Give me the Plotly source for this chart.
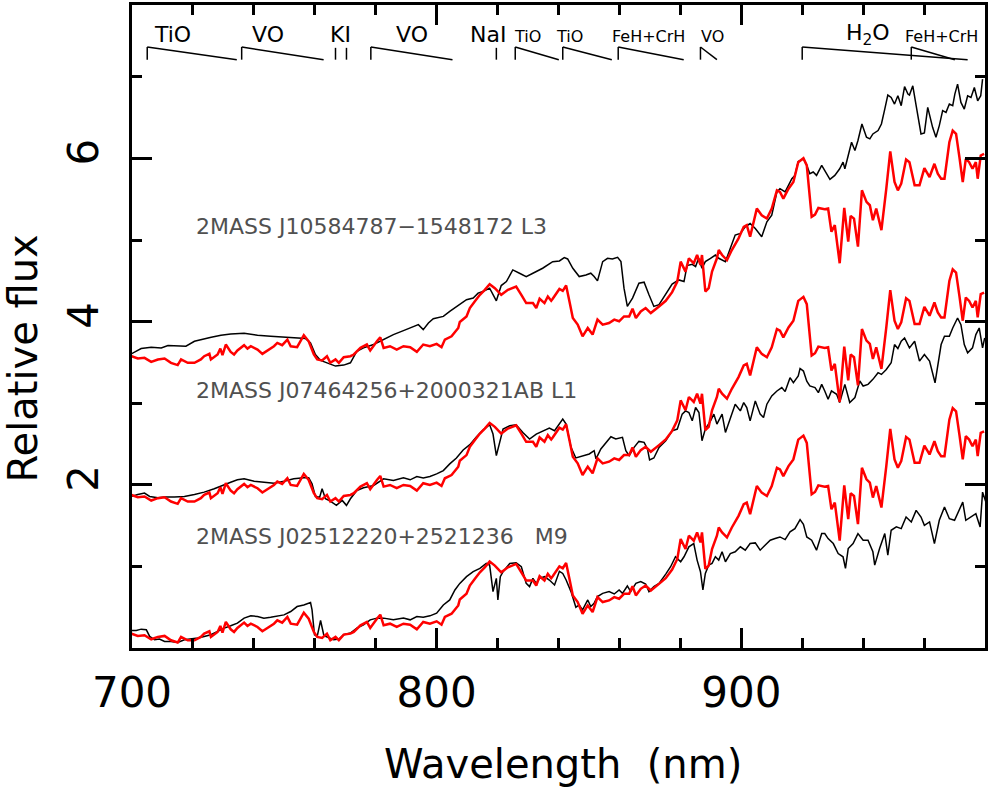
import plotly.graph_objects as go

# ---------------- data ----------------
# Red comparison template (top copy); drawn three times with vertical offsets
template_pairs = [
    (699.8, 3.576), (701.9, 3.548), (704.1, 3.556), (706.3, 3.507), (708.5, 3.536), (710.7, 3.548),
    (712.8, 3.495), (715.0, 3.467), (716.1, 3.536), (718.3, 3.495), (720.5, 3.495), (722.6, 3.536),
    (723.7, 3.576), (725.4, 3.605), (725.9, 3.536), (728.1, 3.597), (729.0, 3.670), (729.7, 3.589),
    (730.8, 3.719), (732.4, 3.629), (733.5, 3.597), (734.6, 3.646), (736.8, 3.711), (737.9, 3.670),
    (739.0, 3.698), (741.2, 3.658), (742.8, 3.605), (744.4, 3.646), (746.6, 3.698), (747.7, 3.739),
    (749.3, 3.711), (751.0, 3.780), (752.1, 3.698), (754.2, 3.686), (756.4, 3.833), (758.0, 3.759),
    (759.7, 3.597), (760.8, 3.536), (762.4, 3.524), (764.0, 3.576), (765.1, 3.495), (766.8, 3.536),
    (767.9, 3.495), (769.5, 3.564), (771.7, 3.576), (772.8, 3.597), (775.0, 3.678), (777.1, 3.719),
    (778.2, 3.646), (780.4, 3.759), (781.5, 3.808), (782.6, 3.678), (784.7, 3.698), (786.9, 3.658),
    (789.1, 3.698), (791.3, 3.686), (793.5, 3.629), (795.6, 3.719), (797.8, 3.698), (800.0, 3.727),
    (801.6, 3.686), (802.7, 3.780), (804.9, 3.820), (807.1, 3.922), (807.6, 3.995), (809.8, 4.064),
    (810.9, 4.166), (812.5, 4.247), (814.2, 4.328), (815.8, 4.389), (817.4, 4.459), (819.1, 4.410),
    (821.2, 4.328), (823.4, 4.389), (826.1, 4.430), (827.8, 4.328), (829.4, 4.227), (831.6, 4.227),
    (832.7, 4.166), (833.8, 4.280), (835.4, 4.227), (836.5, 4.308), (837.6, 4.255), (838.1, 4.280),
    (840.3, 4.400), (841.4, 4.377), (842.5, 4.442), (843.6, 4.247), (844.7, 4.044), (846.3, 3.963),
    (847.9, 3.820), (849.6, 3.922), (851.2, 3.841), (852.8, 4.024), (854.5, 3.963), (856.6, 3.983),
    (858.3, 4.024), (859.9, 4.004), (861.5, 4.064), (863.2, 4.064), (864.3, 4.158), (865.4, 4.044),
    (867.0, 4.125), (868.6, 4.166), (870.3, 4.105), (873.0, 4.186), (875.2, 4.255), (877.3, 4.361),
    (879.0, 4.491), (880.1, 4.735), (881.7, 4.613), (882.8, 4.776), (884.4, 4.715), (885.5, 4.816),
    (886.6, 4.694), (887.1, 4.816), (888.2, 4.369), (889.3, 4.410), (890.4, 4.613), (892.0, 4.776),
    (892.6, 4.877), (893.7, 4.816), (895.3, 4.755), (896.9, 4.877), (899.1, 5.020), (900.8, 5.162),
    (901.8, 5.182), (902.9, 5.040), (905.1, 5.385), (906.7, 5.304), (908.4, 5.263), (910.0, 5.385),
    (911.7, 5.609), (912.7, 5.589), (913.8, 5.507), (915.5, 5.629), (917.1, 5.711), (918.7, 5.954),
    (920.4, 6.003), (921.5, 5.914), (923.1, 5.284), (924.2, 5.312), (925.3, 5.393), (927.4, 5.377),
    (928.5, 5.385), (929.6, 5.101), (930.7, 5.182), (932.3, 4.715), (933.8, 5.393), (935.1, 4.979),
    (935.9, 5.296), (937.0, 5.263), (938.3, 4.918), (939.6, 5.609), (941.1, 5.467), (942.2, 5.426),
    (943.2, 5.243), (944.3, 5.385), (946.0, 5.121), (947.6, 5.629), (948.9, 6.085), (950.3, 5.711),
    (951.4, 5.609), (952.5, 5.690), (954.1, 5.987), (955.2, 5.954), (956.9, 5.670), (958.5, 5.670),
    (960.1, 5.881), (961.8, 5.772), (963.4, 5.934), (964.5, 5.812), (965.6, 5.751), (966.7, 5.751),
    (968.3, 6.198), (969.4, 6.341), (970.5, 6.300), (971.6, 6.015), (972.7, 5.711), (973.7, 5.995),
    (974.8, 5.954), (975.9, 5.873), (977.0, 5.954), (977.6, 5.751), (978.6, 6.036), (979.7, 6.056),
]
template_offsets = [0.0, -1.70, -3.40]

# Observed spectra (black)
l3_pairs = [
    (699.8, 3.605), (703.0, 3.670), (706.3, 3.686), (709.6, 3.678), (711.8, 3.707), (715.0, 3.698),
    (717.7, 3.698), (720.5, 3.759), (722.6, 3.780), (726.0, 3.808), (729.2, 3.833), (732.4, 3.849),
    (736.8, 3.857), (741.2, 3.833), (745.5, 3.820), (749.9, 3.808), (754.2, 3.792), (757.0, 3.792),
    (758.6, 3.739), (760.2, 3.597), (761.9, 3.524), (764.0, 3.495), (766.8, 3.455), (769.5, 3.467),
    (771.7, 3.495), (773.8, 3.637), (776.0, 3.678), (779.3, 3.719), (782.6, 3.780), (785.8, 3.841),
    (789.1, 3.890), (792.4, 3.942), (794.0, 3.963), (795.6, 3.902), (797.3, 3.983), (798.9, 4.036),
    (802.2, 4.064), (804.3, 4.125), (807.6, 4.207), (809.8, 4.268), (812.0, 4.288), (813.6, 4.349),
    (815.2, 4.369), (817.4, 4.410), (819.6, 4.255), (821.2, 4.442), (822.9, 4.491), (825.0, 4.633),
    (827.2, 4.593), (829.4, 4.552), (831.6, 4.593), (834.8, 4.654), (838.1, 4.735), (840.3, 4.743),
    (841.9, 4.784), (843.0, 4.768), (844.7, 4.654), (846.8, 4.552), (849.0, 4.572), (850.6, 4.593),
    (851.7, 4.552), (852.8, 4.499), (854.5, 4.735), (856.1, 4.776), (857.7, 4.768), (859.4, 4.788),
    (860.5, 4.735), (861.5, 4.410), (862.6, 4.186), (864.3, 4.288), (866.4, 4.471), (868.1, 4.483),
    (869.7, 4.328), (871.3, 4.186), (873.0, 4.207), (875.2, 4.328), (877.3, 4.459), (879.5, 4.511),
    (881.2, 4.491), (882.2, 4.686), (883.9, 4.702), (885.0, 4.674), (886.0, 4.776), (887.1, 4.654),
    (888.2, 4.735), (889.9, 4.776), (891.5, 4.816), (892.6, 4.776), (894.8, 4.735), (896.4, 4.898),
    (898.0, 5.060), (899.7, 5.081), (901.3, 5.162), (902.9, 5.202), (904.6, 5.141), (906.7, 5.040),
    (908.4, 5.223), (910.0, 5.304), (911.7, 5.589), (912.7, 5.629), (914.4, 5.589), (916.6, 5.751),
    (917.6, 5.792), (918.7, 5.963), (920.4, 5.995), (921.5, 5.914), (922.5, 5.812), (923.6, 5.833),
    (924.7, 5.792), (926.4, 5.914), (927.4, 5.853), (929.1, 5.743), (930.7, 5.792), (932.3, 5.873),
    (933.4, 5.954), (934.0, 5.873), (935.1, 6.036), (936.2, 6.198), (937.3, 6.097), (938.3, 6.219),
    (939.6, 6.422), (941.1, 6.259), (942.2, 6.239), (943.2, 6.300), (944.9, 6.341), (946.0, 6.422),
    (947.1, 6.605), (948.1, 6.776), (949.2, 6.747), (950.3, 6.666), (951.4, 6.768), (952.5, 6.646),
    (953.6, 6.881), (954.7, 6.788), (955.2, 6.776), (956.3, 6.889), (957.4, 6.646), (959.0, 6.300),
    (960.1, 6.312), (961.2, 6.625), (962.8, 6.381), (963.9, 6.259), (965.0, 6.402), (966.1, 6.585),
    (967.2, 6.564), (968.3, 6.666), (969.4, 6.646), (970.1, 6.788), (971.0, 6.910), (972.1, 6.686),
    (973.2, 6.605), (974.3, 6.768), (975.4, 6.747), (976.5, 6.869), (977.6, 6.706), (978.6, 6.768),
    (979.2, 6.971),
]

l1_pairs = [
    (699.8, 1.857), (701.9, 1.882), (704.1, 1.898), (705.8, 1.857), (708.5, 1.841), (710.7, 1.849),
    (713.9, 1.849), (717.2, 1.857), (720.5, 1.882), (723.7, 1.910), (727.0, 1.951), (730.3, 2.004),
    (732.4, 2.032), (734.6, 2.061), (736.8, 2.073), (740.1, 2.044), (743.3, 2.032), (746.6, 2.020),
    (749.9, 2.044), (753.1, 2.073), (756.4, 2.085), (758.0, 2.085), (759.1, 2.012), (760.2, 1.857),
    (761.6, 1.849), (762.4, 1.951), (763.5, 1.829), (765.1, 1.800), (767.1, 1.748), (769.0, 1.809),
    (770.4, 1.748), (771.7, 1.829), (773.8, 1.931), (776.0, 1.963), (779.3, 1.992), (782.6, 2.073),
    (785.8, 2.053), (789.1, 2.085), (791.3, 2.061), (793.5, 2.101), (795.6, 2.085), (797.8, 2.101),
    (800.0, 2.134), (802.2, 2.174), (804.3, 2.256), (806.5, 2.329), (808.7, 2.427), (810.9, 2.492),
    (813.1, 2.589), (815.2, 2.670), (817.4, 2.736), (818.5, 2.622), (819.6, 2.357), (820.7, 2.540),
    (821.8, 2.683), (824.0, 2.723), (826.1, 2.736), (828.3, 2.642), (830.5, 2.561), (832.7, 2.622),
    (834.8, 2.662), (837.0, 2.695), (838.7, 2.662), (840.3, 2.750), (841.4, 2.805), (842.5, 2.744),
    (844.1, 2.459), (845.7, 2.329), (847.9, 2.357), (850.1, 2.378), (851.7, 2.418), (852.3, 2.317),
    (853.9, 2.439), (855.6, 2.520), (857.2, 2.589), (858.8, 2.561), (861.0, 2.581), (862.1, 2.418),
    (863.2, 2.357), (864.8, 2.459), (866.4, 2.532), (868.1, 2.520), (869.2, 2.439), (869.9, 2.305),
    (871.3, 2.329), (873.0, 2.459), (875.2, 2.540), (877.3, 2.662), (879.0, 2.683), (880.6, 2.866),
    (881.7, 2.906), (882.8, 2.886), (883.9, 2.784), (885.0, 2.947), (886.1, 2.886), (887.1, 2.540),
    (888.2, 2.683), (889.9, 2.784), (891.0, 2.866), (892.0, 2.744), (893.7, 2.866), (894.8, 2.642),
    (896.4, 2.825), (898.0, 2.988), (899.7, 2.906), (900.8, 3.008), (901.8, 2.947), (902.9, 2.784),
    (904.6, 3.028), (906.2, 2.866), (907.3, 2.825), (908.4, 2.988), (910.0, 3.089), (911.7, 3.150),
    (913.3, 3.191), (914.4, 3.142), (916.0, 3.313), (917.1, 3.252), (918.7, 3.333), (919.3, 3.426),
    (920.4, 3.394), (921.5, 3.270), (922.5, 3.211), (924.2, 3.191), (925.3, 3.130), (926.4, 3.231),
    (927.4, 3.150), (928.5, 3.049), (929.6, 3.150), (931.3, 3.109), (932.3, 3.008), (934.0, 3.231),
    (935.6, 3.008), (937.3, 3.069), (938.9, 3.272), (940.0, 3.211), (941.6, 3.231), (943.2, 3.292),
    (944.9, 3.374), (946.0, 3.353), (947.6, 3.414), (949.2, 3.495), (950.3, 3.719), (951.4, 3.670),
    (952.5, 3.759), (953.6, 3.800), (955.2, 3.678), (956.9, 3.759), (958.5, 3.516), (960.1, 3.597),
    (961.8, 3.516), (963.6, 3.250), (965.6, 3.719), (966.7, 3.821), (968.3, 3.821), (969.4, 3.922),
    (971.0, 4.044), (972.1, 3.963), (973.2, 3.719), (974.3, 3.617), (975.9, 3.678), (977.0, 3.841),
    (978.1, 3.922), (979.2, 3.678), (979.9, 3.800),
]

m9_pairs = [
    (699.8, 0.215), (701.4, 0.215), (703.0, 0.231), (704.7, 0.223), (705.8, 0.142), (707.4, 0.101),
    (709.0, 0.109), (710.7, 0.081), (712.8, 0.081), (715.0, 0.069), (717.2, 0.101), (719.4, 0.109),
    (721.6, 0.122), (723.7, 0.142), (725.9, 0.162), (728.1, 0.203), (730.3, 0.244), (732.4, 0.272),
    (734.6, 0.305), (736.8, 0.366), (739.0, 0.394), (741.2, 0.386), (743.3, 0.366), (745.5, 0.378),
    (747.7, 0.394), (749.9, 0.406), (752.1, 0.447), (754.2, 0.508), (756.4, 0.528), (758.0, 0.549),
    (758.6, 0.557), (759.1, 0.467), (759.9, 0.162), (760.8, 0.142), (761.9, 0.337), (763.0, 0.150),
    (764.6, 0.122), (766.2, 0.101), (767.9, 0.109), (769.5, 0.162), (771.7, 0.183), (773.8, 0.244),
    (776.0, 0.284), (778.2, 0.345), (780.4, 0.366), (782.6, 0.366), (785.8, 0.345), (789.1, 0.366),
    (791.3, 0.345), (793.5, 0.386), (795.6, 0.378), (797.8, 0.394), (800.0, 0.427), (802.2, 0.528),
    (804.3, 0.589), (806.0, 0.711), (807.6, 0.792), (809.8, 0.874), (812.0, 0.935), (814.2, 0.975),
    (816.3, 1.036), (817.4, 1.016), (818.5, 0.691), (819.6, 0.853), (820.1, 0.589), (820.9, 0.874),
    (821.8, 0.935), (824.0, 1.036), (826.1, 1.044), (827.8, 0.996), (829.4, 0.792), (830.5, 0.752),
    (831.6, 0.853), (832.7, 0.792), (833.8, 0.853), (835.4, 0.874), (837.0, 0.833), (838.7, 0.772),
    (840.3, 0.940), (841.4, 0.914), (842.5, 0.833), (844.1, 0.691), (845.7, 0.500), (846.8, 0.528),
    (847.9, 0.467), (849.6, 0.589), (850.6, 0.508), (851.7, 0.549), (852.8, 0.630), (854.5, 0.670),
    (856.6, 0.691), (858.3, 0.662), (859.9, 0.711), (861.0, 0.670), (862.6, 0.760), (863.7, 0.691),
    (865.4, 0.792), (867.0, 0.813), (868.6, 0.784), (869.7, 0.691), (871.3, 0.752), (873.0, 0.792),
    (875.2, 0.906), (876.8, 0.996), (878.4, 1.118), (880.1, 1.057), (881.2, 1.118), (882.8, 1.240),
    (884.4, 1.280), (885.5, 1.077), (886.6, 0.935), (887.4, 0.711), (888.2, 0.914), (889.3, 1.016),
    (890.4, 1.036), (891.5, 1.118), (892.6, 1.077), (893.7, 1.179), (894.8, 1.057), (896.4, 1.158),
    (898.0, 1.179), (899.7, 1.240), (901.3, 1.199), (902.9, 1.280), (904.6, 1.288), (906.2, 1.199),
    (907.8, 1.260), (909.5, 1.321), (911.1, 1.341), (912.7, 1.361), (914.4, 1.329), (916.0, 1.423),
    (917.6, 1.463), (919.3, 1.573), (920.4, 1.516), (921.5, 1.361), (923.1, 1.321), (924.7, 1.199),
    (926.4, 1.402), (927.4, 1.402), (928.5, 1.341), (930.2, 1.280), (931.8, 1.158), (933.4, 1.118),
    (934.2, 0.976), (935.1, 1.219), (936.7, 1.280), (938.3, 1.402), (940.0, 1.321), (941.6, 1.321),
    (943.2, 1.179), (943.8, 1.016), (945.4, 1.219), (947.1, 1.402), (948.1, 1.138), (949.2, 1.443),
    (950.9, 1.484), (952.5, 1.463), (954.1, 1.605), (955.8, 1.545), (957.4, 1.687), (959.0, 1.605),
    (960.1, 1.504), (961.8, 1.545), (963.4, 1.280), (965.0, 1.565), (966.7, 1.728), (968.3, 1.585),
    (970.0, 1.565), (971.6, 1.687), (972.7, 1.788), (973.7, 1.565), (975.4, 1.605), (977.0, 1.646),
    (978.4, 1.484), (979.2, 1.910), (980.3, 1.788),
]

star_spectra = [l3_pairs, l1_pairs, m9_pairs]
star_labels = ["2MASS J10584787\u22121548172 L3",
               "2MASS J07464256+2000321AB L1",
               "2MASS J02512220+2521236\u00a0\u00a0\u00a0M9"]
label_x = [720.4, 720.4, 720.4]
label_y = [5.17, 3.16, 1.37]

# Molecular / atomic band markers
band_names = ["TiO", "VO", "KI", "VO", "NaI", "TiO", "TiO", "FeH+CrH", "VO", "H<sub>2</sub>O", "FeH+CrH"]
band_label_x = [713.4, 744.6, 768.4, 791.8, 816.9, 829.9, 843.6, 869.7, 890.4, 941.6, 965.6]
band_big = [True, True, True, True, True, False, False, False, False, True, False]
band_start = [705.0, 736.0, None, 778.4, None, 825.8, 841.4, 859.6, 886.6, 920.0, 955.8]
band_end = [734.4, 762.9, None, 805.2, None, 840.1, 857.5, 881.1, 892.0, 974.3, 970.1]
line_markers = [766.8, 770.4, 819.6]   # single atomic lines (KI doublet, NaI)

x_range = [700, 980]
y_range = [0, 7.88]
x_ticks = [700, 800, 900]
x_minor = [720, 740, 760, 780, 820, 840, 860, 880, 920, 940, 960, 980]
y_ticks = [2, 4, 6]
y_minor = [1, 3, 5, 7]

FONT = "DejaVu Sans"

fig = go.Figure()
for i, pairs in enumerate(star_spectra):
    wl, fl = zip(*pairs)
    fig.add_trace(go.Scatter(x=list(wl), y=list(fl), mode="lines",
                             line=dict(color="black", width=1.5), hoverinfo="skip"))
    twl, tfl = zip(*template_pairs)
    fig.add_trace(go.Scatter(x=list(twl), y=[v + template_offsets[i] for v in tfl], mode="lines",
                             line=dict(color="#ff0000", width=2.5), hoverinfo="skip"))

annotations = []
for txt, x, y in zip(star_labels, label_x, label_y):
    annotations.append(dict(x=x, y=y, xref="x", yref="y", text=txt, showarrow=False,
                            xanchor="left", yanchor="middle",
                            font=dict(family=FONT, size=22, color="#505050")))

Y_TOP = 7.365
Y_BOT = 7.21
shapes = []
for name, lx, big, s, e in zip(band_names, band_label_x, band_big, band_start, band_end):
    annotations.append(dict(x=lx, y=7.52 if big else 7.49, xref="x", yref="y", text=name,
                            showarrow=False, xanchor="center", yanchor="middle",
                            font=dict(family=FONT, size=22 if big else 16, color="black")))
    if s is not None:
        shapes.append(dict(type="line", xref="x", yref="y", x0=s, x1=s, y0=Y_BOT, y1=Y_TOP,
                           line=dict(color="black", width=1.5)))
        shapes.append(dict(type="line", xref="x", yref="y", x0=s, x1=e, y0=Y_TOP, y1=Y_BOT,
                           line=dict(color="black", width=1.5)))
for lm in line_markers:
    shapes.append(dict(type="line", xref="x", yref="y", x0=lm, x1=lm, y0=Y_BOT, y1=Y_TOP - 0.01,
                       line=dict(color="black", width=1.5)))

# Axis titles
annotations.append(dict(x=0.505, y=-0.18, xref="paper", yref="paper", text="Wavelength\u00a0\u00a0(nm)",
                        showarrow=False, xanchor="center", yanchor="middle",
                        font=dict(family=FONT, size=40, color="black")))
annotations.append(dict(x=-0.128, y=0.45, xref="paper", yref="paper", text="Relative flux",
                        showarrow=False, xanchor="center", yanchor="middle", textangle=-90,
                        font=dict(family=FONT, size=40, color="black")))

axis_common = dict(showgrid=False, zeroline=False, showline=True, linewidth=3, linecolor="black",
                   mirror="allticks", ticks="inside", ticklen=20, tickwidth=2.5, tickcolor="black",
                   tickfont=dict(family=FONT, size=42, color="black"))

fig.update_layout(
    width=990, height=800,
    margin=dict(l=132, r=3, t=2, b=152),
    plot_bgcolor="white", paper_bgcolor="white",
    showlegend=False,
    xaxis=dict(range=x_range, tickmode="array", tickvals=x_ticks,
               minor=dict(tickmode="array", tickvals=x_minor, ticks="inside", ticklen=10,
                          tickwidth=2.5, tickcolor="black", showgrid=False),
               ticklabelstandoff=6, **axis_common),
    yaxis=dict(range=y_range, tickmode="array", tickvals=y_ticks, tickangle=-90,
               minor=dict(tickmode="array", tickvals=y_minor, ticks="inside", ticklen=10,
                          tickwidth=2.5, tickcolor="black", showgrid=False),
               ticklabelstandoff=14, **axis_common),
    annotations=annotations,
    shapes=shapes,
)

fig.write_html("out.html")
